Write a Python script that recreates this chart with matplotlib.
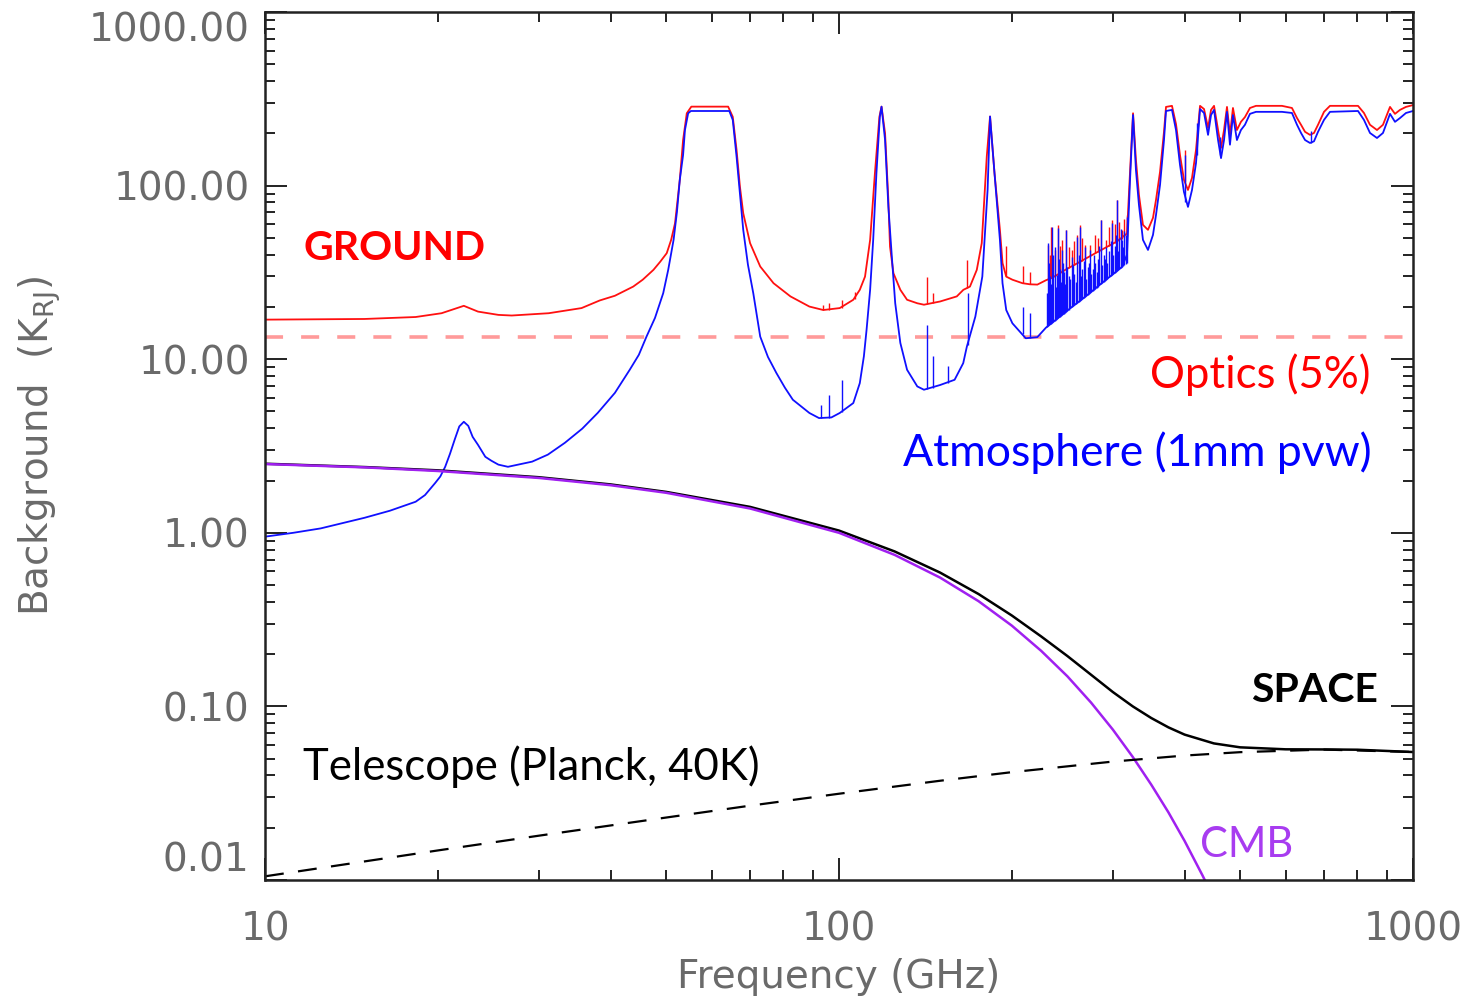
import numpy as np
import matplotlib.pyplot as plt
from matplotlib.ticker import LogLocator, NullFormatter

plt.rcParams['font.family'] = 'DejaVu Sans'

# atmosphere continuum (1mm pwv), GHz / K_RJ
atm_freq = [10, 11.2, 12.5, 14.9, 16.5, 18.3, 19.0, 19.8, 20.2, 20.6,
            21.0, 21.4, 21.8, 22.2, 22.6, 23.0, 23.5, 24.2, 24.8, 25.5,
            26.5, 29.2, 31.1, 33.3, 35.7, 38.0, 40.7, 43.2, 44.8, 46.2,
            47.8, 49.4, 50.4, 51.5, 52.2, 52.8, 53.5, 53.9, 54.6, 55.2,
            64.4, 65.3, 66.3, 68.1, 69.4, 70.9, 72.9, 75.2, 77.8, 80.5,
            83.1, 88.8, 92.3, 97.0, 100.3, 105.9, 108.7, 110.5, 111.7, 113.3,
            114.7, 116.2, 117.8, 118.6, 120.3, 121.9, 123.6, 125.3, 127.9, 131.4,
            136.9, 140.6, 150.0, 159.0, 164.6, 167.0, 172.8, 177.7, 181.5, 183.3,
            186.6, 190.7, 192.7, 195.6, 200.5, 211.5, 221.6, 229.4, 235.0, 244.6,
            254.6, 263.0, 273.7, 286.1, 299.0, 311.2, 317.5, 321.4, 325.3, 329.1,
            333.1, 338.5, 345.4, 352.4, 356.7, 362.5, 368.3, 371.3, 380.3, 386.5,
            392.7, 399.0, 405.5, 412.1, 418.8, 425.6, 432.5, 439.5, 444.8, 450.2,
            457.5, 463.0, 468.6, 474.2, 479.9, 485.7, 493.5, 501.5, 509.6, 520.0,
            532.7, 591.2, 615.4, 628.0, 638.2, 648.6, 661.6, 672.3, 683.2, 699.8,
            716.8, 802.1, 821.5, 841.6, 865.6, 886.6, 912.0, 930.4, 949.3, 972.3,
            1000]
atm_temp = [0.95, 1.00, 1.06, 1.22, 1.34, 1.51, 1.65, 1.94, 2.11, 2.40,
            2.85, 3.44, 4.10, 4.36, 4.13, 3.57, 3.21, 2.74, 2.60, 2.47,
            2.40, 2.57, 2.82, 3.30, 3.98, 4.91, 6.4, 8.7, 10.6, 13.5,
            17.3, 24.0, 32.7, 48.7, 70.6, 108, 150, 209, 261, 269,
            269, 239, 147, 55.6, 35.0, 24.0, 13.5, 10.3, 8.32, 6.85,
            5.84, 4.90, 4.58, 4.62, 4.90, 5.59, 7.28, 10.4, 14.8, 25.1,
            48.7, 118, 249, 285, 183, 75.7, 39.0, 21.0, 12.4, 8.69,
            6.97, 6.67, 7.1, 7.61, 9.49, 11.8, 17.6, 29.9, 94.4, 250,
            118, 48.7, 27.4, 19.2, 16.1, 13.2, 13.4, 15.2, 16.2, 18.0,
            20.0, 21.7, 24.1, 27.2, 30.6, 34.0, 40, 108, 255, 123,
            77.4, 48.7, 42.6, 52.0, 67.8, 101, 183, 269, 273, 209,
            132, 92.0, 75.4, 94.4, 135, 276, 262, 196, 255, 273,
            183, 144, 183, 266, 172, 255, 183, 209, 224, 259,
            266, 266, 262, 224, 201, 183, 176, 180, 204, 239,
            266, 269, 239, 201, 188, 201, 259, 233, 245, 262,
            269]

# narrow atmospheric lines: frequency, bottom, top
atm_line_freq = [93.2, 95.9, 101.4, 142.2, 145.6, 154.7, 167.7, 208.8, 215.2, 231.3,
                 233.1, 235.0, 237.8, 239.3, 240.7, 242.5, 244.6, 246.5, 248.6, 251.5,
                 254.6, 257.0, 259.8, 263.0, 265.6, 268.3, 271.0, 273.7, 276.5, 279.3,
                 282.6, 286.1, 289.0, 291.9, 295.4, 299.0, 302.0, 305.0, 308.0, 311.2,
                 314.3, 317.5, 400.6, 420.5, 461.0, 665.0]
atm_line_lo = [4.58, 4.60, 4.95, 6.70, 6.80, 7.30, 12.0, 14.0, 13.3, 15.6,
               15.9, 16.2, 16.6, 17.0, 17.3, 17.6, 18.0, 18.3, 18.7, 19.3,
               20.0, 20.5, 21.1, 21.7, 22.3, 22.9, 23.5, 24.1, 24.8, 25.4,
               26.2, 27.2, 28.0, 28.7, 29.6, 30.6, 31.4, 32.3, 33.1, 34.0,
               35.0, 36.0, 80.0, 150, 150, 176]
atm_line_hi = [5.47, 6.24, 7.61, 15.8, 10.4, 9.08, 24.1, 20.0, 18.5, 46.8,
               30.0, 57.8, 44.4, 30.5, 57.0, 33.0, 42.6, 32.0, 55.6, 30.0,
               38.9, 31.0, 50.7, 57.8, 33.0, 44.4, 34.0, 42.6, 33.0, 35.9,
               38.0, 63.4, 40.0, 44.4, 42.0, 60.9, 45.0, 82.8, 50.0, 48.7,
               55.0, 66.0, 150, 230, 190, 205]

# weaker lines filling the 230-320 GHz forest
weak_line_freq = [230.2, 232.2, 234.0, 236.4, 238.6, 241.6, 243.5, 245.5, 247.5, 250.0,
                  253.0, 255.8, 258.4, 261.4, 264.3, 267.0, 269.6, 272.3, 275.1, 278.0,
                  281.0, 284.3, 287.5, 290.4, 293.6, 297.2, 300.5, 303.5, 306.5, 309.6,
                  312.8, 316.0]
weak_line_lo = [15.3, 15.7, 16.0, 16.4, 16.8, 17.4, 17.8, 18.1, 18.5, 19.0,
                19.7, 20.2, 20.8, 21.4, 22.0, 22.6, 23.2, 23.8, 24.4, 25.1,
                25.8, 26.7, 27.6, 28.3, 29.1, 30.1, 31.0, 31.9, 32.7, 33.5,
                34.5, 35.5]
weak_line_hi = [24, 36, 27, 40, 26, 38, 28, 36, 27, 34,
                29, 35, 28, 40, 30, 37, 29, 36, 31, 40,
                32, 45, 35, 38, 36, 48, 40, 52, 42, 56,
                44, 52]

# ground total (atmosphere + optics + CMB)
gnd_freq = [10, 14.9, 18.3, 20.3, 22.2, 23.5, 25.5, 26.9, 31.2, 35.6,
            38.3, 40.7, 43.8, 45.5, 47.5, 48.8, 50.1, 51.0, 51.8, 52.8,
            53.5, 54.3, 55.3, 64.1, 65.3, 66.3, 67.2, 68.1, 70.0, 72.9,
            76.9, 82.3, 88.8, 93.9, 100.3, 105.9, 108.7, 111.0, 113.3, 115.5,
            117.6, 118.6, 120.3, 121.9, 122.7, 124.4, 127.9, 131.4, 136.9, 140.6,
            150.0, 160.4, 164.7, 169.1, 173.8, 177.3, 180.9, 183.3, 186.6, 190.7,
            192.7, 195.6, 200.5, 208.8, 215.2, 221.6, 229.4, 235.0, 240.7, 248.6,
            259.8, 268.3, 279.3, 291.9, 305.0, 317.5, 321.4, 325.3, 329.1, 333.1,
            338.5, 345.4, 352.4, 356.7, 362.5, 368.3, 371.3, 380.3, 386.5, 392.7,
            399.0, 405.5, 412.1, 418.8, 425.6, 432.5, 439.5, 444.8, 450.2, 457.5,
            463.0, 468.6, 474.2, 479.9, 485.7, 493.5, 501.5, 509.6, 520.0, 532.7,
            591.2, 615.4, 628.0, 638.2, 648.6, 661.6, 672.3, 683.2, 699.8, 716.8,
            802.1, 821.5, 841.6, 865.6, 886.6, 912.0, 930.4, 949.3, 972.3, 1000]
gnd_temp = [16.9, 17.05, 17.5, 18.4, 20.3, 18.8, 18.0, 17.85, 18.4, 19.7,
            21.8, 23.2, 26.2, 28.7, 32.7, 36.4, 40.8, 48.7, 60.7, 108,
            183, 261, 285, 285, 249, 160.6, 98.7, 69.3, 46.6, 34.2,
            27.4, 23.0, 20.1, 19.2, 19.7, 22.0, 25.1, 29.9, 48.7, 118,
            249, 285, 200, 82.8, 44.6, 31.3, 25.1, 22.0, 21.0, 20.6,
            21.5, 23.0, 25.1, 26.2, 32.7, 46.6, 146.9, 250, 118, 55.6,
            35.8, 29.9, 28.7, 27.4, 27.0, 26.9, 28.5, 29.4, 30.8, 32.9,
            35.6, 37.8, 40.7, 44.1, 47.7, 53, 120, 261, 140.6, 88.4,
            59.4, 55.6, 65.2, 82.8, 120, 204, 284, 288, 226, 150,
            108, 94.4, 110.7, 160.6, 288, 276, 215, 273, 288, 209,
            165, 209, 284, 196, 280, 209, 233, 248, 280, 288,
            288, 280, 245, 224, 204, 196, 201, 224, 266, 288,
            288, 262, 224, 209, 224, 284, 259, 273, 284, 291]

gnd_line_freq = [93.9, 95.9, 101.4, 106.5, 142.2, 146.0, 167.0, 195.4, 208.8, 215.2,
                 231.3, 233.1, 234.5, 237.8, 240.7, 242.5, 244.6, 248.6, 251.5, 254.6,
                 257.0, 259.8, 263.0, 265.6, 268.3, 273.7, 279.3, 282.6, 286.1, 291.9,
                 295.4, 299.0, 302.0, 305.0, 308.0, 311.2, 314.3, 317.5, 400.6]
gnd_line_lo = [19.2, 19.3, 19.8, 22.2, 20.7, 21.0, 25.6, 30.0, 27.5, 27.1,
               28.8, 29.2, 29.4, 30.2, 30.8, 31.3, 31.9, 32.9, 33.5, 34.5,
               35.0, 35.6, 36.4, 37.0, 37.8, 39.4, 40.7, 41.6, 42.6, 44.1,
               45.0, 46.2, 47.0, 47.7, 48.5, 49.3, 50.3, 51.3, 105]
gnd_line_hi = [20.6, 21.0, 22.0, 24.5, 29.9, 24.0, 37.4, 44.6, 34.2, 31.9,
               45.6, 40.0, 57.8, 42.6, 59.4, 45.0, 48.7, 55.6, 44.0, 42.6,
               48.0, 52.0, 59.4, 50.0, 45.6, 45.6, 52.0, 50.0, 63.4, 48.7,
               58.0, 63.4, 60.0, 82.8, 62.0, 55.6, 64.0, 67.8, 160.6]

optics_level = 13.5

# space: CMB, telescope and their sum
cmb_freq = [10, 15, 20, 30, 40, 50, 70, 100, 125, 150,
            175, 200, 225, 250, 275, 300, 325, 350, 375, 400, 430, 450]
cmb_temp = [2.49, 2.38, 2.27, 2.07, 1.88, 1.70, 1.38, 1.00, 0.746, 0.552,
            0.404, 0.292, 0.209, 0.149, 0.105, 0.0735, 0.0511, 0.0354, 0.0245, 0.0168, 0.0106, 0.0078]

tel_freq = [10, 20, 30, 50, 70, 100, 150, 200, 300, 400, 500, 700, 1000]
tel_temp = [0.0105, 0.0148, 0.0180, 0.0229, 0.0268, 0.0314, 0.0373, 0.0418, 0.0481, 0.0521,
            0.0545, 0.0564, 0.0546]

space_freq = [10, 15, 20, 30, 40, 50, 70, 100, 125, 150,
              175, 200, 225, 250, 275, 300, 325, 350, 375, 400,
              450, 500, 600, 700, 800, 1000]
space_temp = [2.50, 2.39, 2.29, 2.09, 1.90, 1.72, 1.41, 1.03, 0.781, 0.59,
              0.444, 0.334, 0.253, 0.195, 0.152, 0.121, 0.100, 0.0857, 0.0757, 0.0688,
              0.0612, 0.0581, 0.0566, 0.0565, 0.0563, 0.0546]

y_ticks = [0.01, 0.1, 1, 10, 100, 1000]
y_tick_labels = ['0.01', '0.10', '1.00', '10.00', '100.00', '1000.00']
x_ticks = [10, 100, 1000]
x_tick_labels = ['10', '100', '1000']

fig = plt.figure(figsize=(14.74, 10), dpi=100)
ax = fig.add_axes([0.1798, 0.12, 0.7788, 0.868])
ax.set_xscale('log')
ax.set_yscale('log')

red = '#ff1010'
blue = '#1010ff'
purple = '#a020f0'

ax.axhline(optics_level, color='#ff9a9a', lw=2.6, dashes=(5, 5))
ax.plot(gnd_freq, gnd_temp, color=red, lw=1.3)
ax.vlines(gnd_line_freq, gnd_line_lo, gnd_line_hi, color=red, lw=1.0)
ax.plot(atm_freq, atm_temp, color=blue, lw=1.3)
ax.vlines(atm_line_freq, atm_line_lo, atm_line_hi, color=blue, lw=1.0)
ax.vlines(weak_line_freq, weak_line_lo, weak_line_hi, color=blue, lw=1.0)
ax.plot(space_freq, space_temp, color='black', lw=1.8)
ax.plot(cmb_freq, cmb_temp, color=purple, lw=1.8)
ax.plot(tel_freq, tel_temp, color='black', lw=1.6, dashes=(8.5, 6.5))

ax.set_xlim(10, 1000)
ax.set_ylim(0.01, 1000)

ax.set_xticks(x_ticks, x_tick_labels)
ax.set_yticks(y_ticks, y_tick_labels)
for axis in (ax.xaxis, ax.yaxis):
    axis.set_minor_locator(LogLocator(base=10, subs=np.arange(2, 10), numticks=20))
    axis.set_minor_formatter(NullFormatter())

ax.tick_params(which='both', direction='in', top=True, right=True, width=1.4, color='#222222')
ax.tick_params(which='major', length=16)
ax.tick_params(which='minor', length=7.5)
ax.tick_params(axis='x', which='major', pad=22, labelsize=28, labelcolor='#6a6a6a')
ax.tick_params(axis='y', which='major', pad=11, labelsize=28, labelcolor='#6a6a6a')
yt = ax.yaxis.get_major_ticks()
yt[0].label1.set_va('bottom')
yt[-1].label1.set_va('top')

for s in ax.spines.values():
    s.set_linewidth(1.8)
    s.set_color('#222222')

ax.set_xlabel('Frequency (GHz)', fontsize=28, color='#6a6a6a', va='center')
ax.xaxis.set_label_coords(0.5, -0.112)
ax.set_ylabel('Background  (K$_{\\mathregular{RJ}}$)', fontsize=28, color='#6a6a6a', va='center')
ax.yaxis.set_label_coords(-0.196, 0.5)

lab = dict(family='Lato', transform=ax.transAxes, va='baseline')
ax.text(0.0331, 0.7143, 'GROUND', color='#ff0000', fontsize=29.5, fontweight='bold', ha='left', **lab)
ax.text(0.9626, 0.5668, 'Optics (5%)', color='#ff0000', fontsize=31.5, ha='right', **lab)
ax.text(0.9643, 0.4770, 'Atmosphere (1mm pvw)', color='#0000ff', fontsize=32, ha='right', **lab)
ax.text(0.9695, 0.2051, 'SPACE', color='black', fontsize=29.5, fontweight='bold', ha='right', **lab)
ax.text(0.0331, 0.1152, 'Telescope (Planck, 40K)', color='black', fontsize=31.5, ha='left', **lab)
ax.text(0.8145, 0.0265, 'CMB', color='#a83cf0', fontsize=30, ha='left', **lab)

fig.savefig('out.png', dpi=100)
